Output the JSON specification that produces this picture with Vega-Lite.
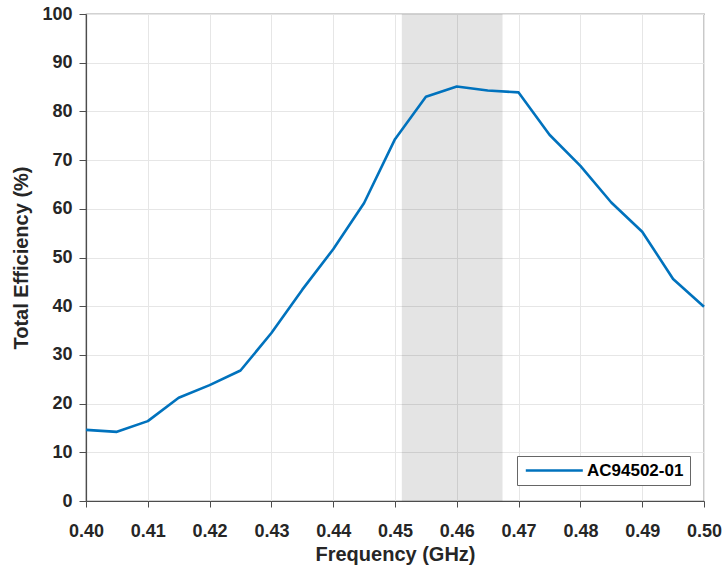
{
  "$schema": "https://vega.github.io/schema/vega-lite/v6.json",
  "width": 618,
  "height": 487,
  "autosize": {"type": "none"},
  "padding": {"left": 86, "top": 14, "right": 22, "bottom": 68},
  "background": "white",
  "datasets": {
    "curve": [
      {"freq": 0.400, "eff": 14.6, "series": "AC94502-01"},
      {"freq": 0.405, "eff": 14.2, "series": "AC94502-01"},
      {"freq": 0.410, "eff": 16.4, "series": "AC94502-01"},
      {"freq": 0.415, "eff": 21.2, "series": "AC94502-01"},
      {"freq": 0.420, "eff": 23.8, "series": "AC94502-01"},
      {"freq": 0.425, "eff": 26.8, "series": "AC94502-01"},
      {"freq": 0.430, "eff": 34.5, "series": "AC94502-01"},
      {"freq": 0.435, "eff": 43.4, "series": "AC94502-01"},
      {"freq": 0.440, "eff": 51.7, "series": "AC94502-01"},
      {"freq": 0.445, "eff": 61.2, "series": "AC94502-01"},
      {"freq": 0.450, "eff": 74.3, "series": "AC94502-01"},
      {"freq": 0.455, "eff": 83.0, "series": "AC94502-01"},
      {"freq": 0.460, "eff": 85.1, "series": "AC94502-01"},
      {"freq": 0.465, "eff": 84.3, "series": "AC94502-01"},
      {"freq": 0.470, "eff": 83.9, "series": "AC94502-01"},
      {"freq": 0.475, "eff": 75.2, "series": "AC94502-01"},
      {"freq": 0.480, "eff": 68.8, "series": "AC94502-01"},
      {"freq": 0.485, "eff": 61.3, "series": "AC94502-01"},
      {"freq": 0.490, "eff": 55.3, "series": "AC94502-01"},
      {"freq": 0.495, "eff": 45.6, "series": "AC94502-01"},
      {"freq": 0.500, "eff": 39.9, "series": "AC94502-01"}
    ],
    "band": [
      {"start": 0.4511, "end": 0.4674}
    ]
  },
  "config": {
    "font": "Liberation Sans",
    "view": {"stroke": "#4d4d4d", "strokeWidth": 1.2},
    "axis": {
      "labelFont": "Liberation Sans",
      "labelFontSize": 18,
      "labelFontWeight": "bold",
      "labelColor": "#262626",
      "titleFont": "Liberation Sans",
      "titleFontSize": 20,
      "titleFontWeight": "bold",
      "titleColor": "#262626",
      "domainColor": "#4d4d4d",
      "domainWidth": 1.2,
      "tickColor": "#4d4d4d",
      "gridColor": "#e6e6e6",
      "gridWidth": 1
    }
  },
  "layer": [
    {
      "data": {"name": "band"},
      "mark": {"type": "rect", "color": "#000000", "opacity": 0.105},
      "encoding": {
        "x": {"field": "start", "type": "quantitative", "scale": {"domain": [0.4, 0.5]}},
        "x2": {"field": "end"}
      }
    },
    {
      "data": {"name": "curve"},
      "mark": {"type": "line", "strokeWidth": 2.6, "strokeJoin": "round"},
      "encoding": {
        "x": {
          "field": "freq",
          "type": "quantitative",
          "scale": {"domain": [0.4, 0.5], "nice": false, "zero": false},
          "axis": {
            "title": "Frequency (GHz)",
            "values": [0.40, 0.41, 0.42, 0.43, 0.44, 0.45, 0.46, 0.47, 0.48, 0.49, 0.50],
            "format": ".2f",
            "tickSize": 6,
            "labelPadding": 15,
            "titlePadding": 4,
            "labelFlush": false
          }
        },
        "y": {
          "field": "eff",
          "type": "quantitative",
          "scale": {"domain": [0, 100], "nice": false},
          "axis": {
            "title": "Total Efficiency (%)",
            "values": [0, 10, 20, 30, 40, 50, 60, 70, 80, 90, 100],
            "tickSize": 7,
            "labelPadding": 7,
            "titlePadding": 10,
            "labelFlush": false
          }
        },
        "color": {
          "field": "series",
          "type": "nominal",
          "scale": {"range": ["#0072BD"]},
          "legend": {
            "title": null,
            "orient": "none",
            "legendX": 431,
            "legendY": 442,
            "symbolType": "M-1,0H9",
            "symbolSize": 130,
            "symbolStrokeWidth": 2.6,
            "labelFontSize": 17,
            "labelFontWeight": "bold",
            "labelColor": "#000000",
            "labelFont": "Liberation Sans",
            "labelOffset": 47,
            "strokeColor": "#666666",
            "fillColor": "white",
            "padding": 6
          }
        }
      }
    }
  ]
}
